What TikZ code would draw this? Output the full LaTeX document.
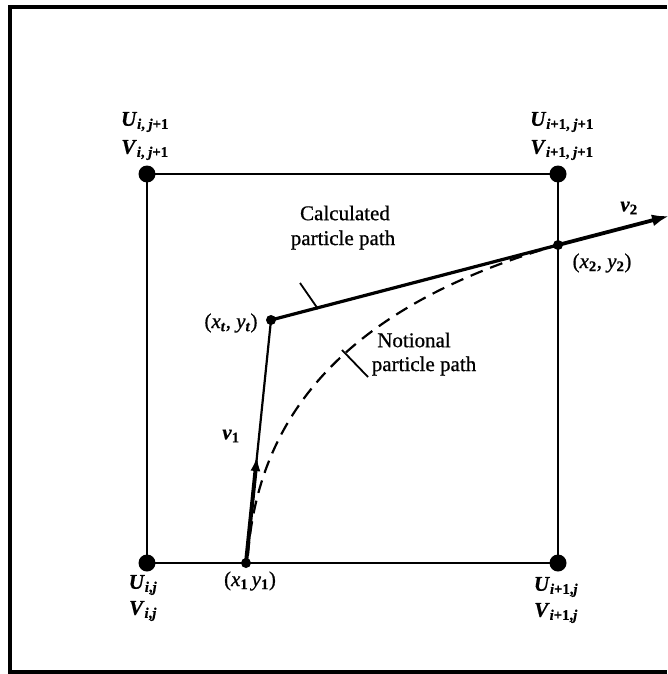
\documentclass[tikz,border=0pt]{standalone}
\usepackage{fontspec}
\setmainfont{Liberation Serif}[FakeBold=0.7]
\usetikzlibrary{arrows.meta,calc}
\newcommand\sbx[1]{\textsubscript{\bfseries #1}}
\newcommand\iv[1]{\textit{#1}}
\newcommand\bv[1]{\textbf{\textit{#1}}}
\tikzset{
  lbl/.style={font=\fontsize{21}{24}\selectfont, inner sep=0pt},
  big/.style={circle, fill=black, minimum size=17pt, inner sep=0pt},
  small/.style={circle, fill=black, minimum size=10pt, inner sep=0pt},
  gridline/.style={line width=2.2pt},
  path/.style={line width=3.2pt},
  lead/.style={line width=1.8pt},
}
\begin{document}
\begin{tikzpicture}[x=1pt,y=-1pt]
\useasboundingbox (0,0) rectangle (667,674);
% frame
\draw[line width=3.2pt] (667,7) -- (10,7) -- (10,672) -- (667,672);
% grid corners
\node[big] (A) at (147,174) {};
\node[big] (B) at (558,174) {};
\node[big] (C) at (147,563) {};
\node[big] (D) at (558,563) {};
\draw[gridline] (A.center) -- (B.center) -- (D.center) -- (C.center) -- cycle;
% points
\node[small] (P1) at (246,563) {};
\node[small] (PT) at (271,320) {};
\node[small] (P2) at (558,245) {};
\coordinate (V1) at ($(P1)!0.44!(PT)$);
\coordinate (V2) at (669,216);
% dashed notional path
\draw[line width=2.2pt, dash pattern=on 13pt off 8pt] (248,555) .. controls (258,420) and (340,308) .. (P2.center);
% calculated path
\draw[line width=2.2pt] (P1.center) -- (PT.center);
\draw[line width=4pt, -{Latex[length=15pt,width=10pt]}] (P1.center) -- (V1);
\draw[path] (PT.center) -- (P2.center);
\draw[line width=3.8pt, -{Latex[length=17pt,width=12pt]}] (P2.center) -- (V2);
% leaders
\coordinate (L1a) at (300,283);
\coordinate (L1b) at (318,309);
\draw[lead] (L1a) -- (L1b);
\coordinate (L2a) at (342,350);
\coordinate (L2b) at (368,377);
\draw[lead] (L2a) -- (L2b);
% labels
\node[lbl] (u1) at (145,122) {\bv{U}\sbx{\iv{i}, \iv{j}+1}};
\node[lbl] (w1) at (145,150) {\bv{V}\sbx{\iv{i}, \iv{j}+1}};
\node[lbl] (u2) at (562,122) {\bv{U}\sbx{\iv{i}+1, \iv{j}+1}};
\node[lbl] (w2) at (562,150) {\bv{V}\sbx{\iv{i}+1, \iv{j}+1}};
\node[lbl] (u3) at (143,585) {\bv{U}\sbx{\iv{i},\iv{j}}};
\node[lbl] (w3) at (143,611) {\bv{V}\sbx{\iv{i},\iv{j}}};
\node[lbl] (u4) at (556,587) {\bv{U}\sbx{\iv{i}+1,\iv{j}}};
\node[lbl] (w4) at (556,613) {\bv{V}\sbx{\iv{i}+1,\iv{j}}};
\node[lbl] (t1) at (250,581) {(\iv{x}\sbx{1}\,\iv{y}\sbx{1})};
\node[lbl] (tt) at (231,323) {(\iv{x}\sbx{\iv{t}}, \iv{y}\sbx{\iv{t}})};
\node[lbl] (t2) at (602,263) {(\iv{x}\sbx{2}, \iv{y}\sbx{2})};
\node[lbl] (c1) at (345,213) {Calculated};
\node[lbl] (c2) at (343,240) {particle path};
\node[lbl] (n1) at (414,340) {Notional};
\node[lbl] (n2) at (424,366) {particle path};
\node[lbl] (v1) at (231,436) {\bv{v}\sbx{1}};
\node[lbl] (v2) at (629,208) {\bv{v}\sbx{2}};
\end{tikzpicture}
\end{document}
